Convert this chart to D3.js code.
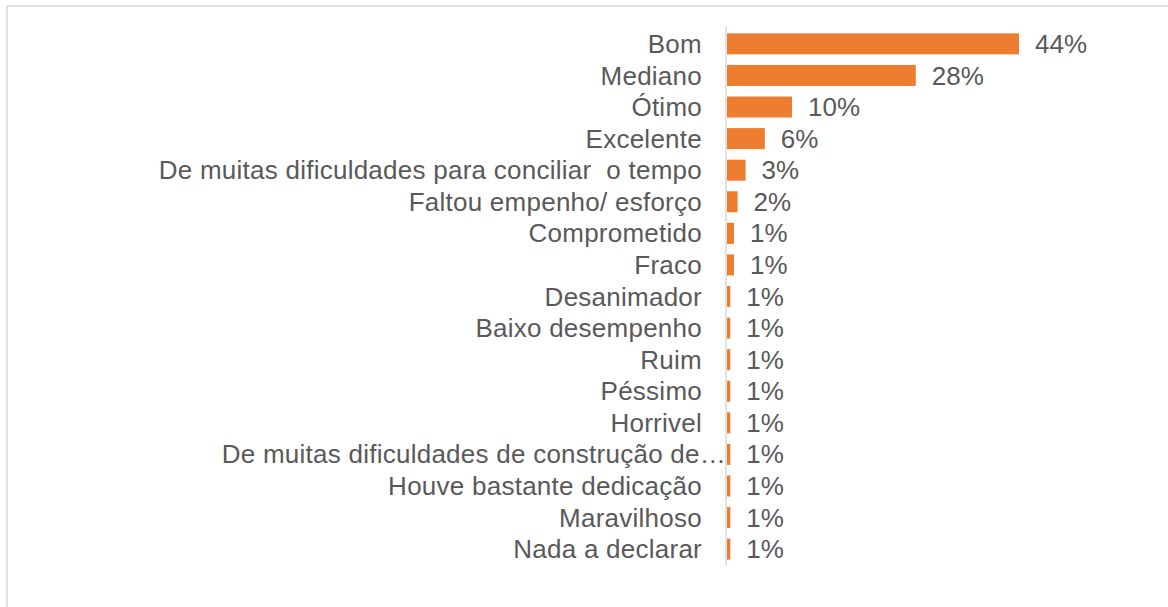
<!DOCTYPE html>
<html>
<head>
<meta charset="utf-8">
<script src="https://cdn.jsdelivr.net/npm/d3@7"></script>
<style>
  html, body { margin: 0; padding: 0; background: #fff; overflow: hidden; }
  text { font-family: "Liberation Sans", Arial, sans-serif; fill: #595959; white-space: pre; }
</style>
</head>
<body>
<div id="chart"></div>
<script>
// categorias (de cima para baixo) e percentuais
const categorias = [
  'Bom', 'Mediano', 'Ótimo', 'Excelente',
  'De muitas dificuldades para conciliar  o tempo',
  'Faltou empenho/ esforço', 'Comprometido', 'Fraco',
  'Desanimador', 'Baixo desempenho', 'Ruim', 'Péssimo', 'Horrivel',
  'De muitas dificuldades de construção de…',
  'Houve bastante dedicação', 'Maravilhoso', 'Nada a declarar'
];
const percentuais = [44, 28.45, 9.8, 5.7, 2.8, 1.6, 1.05, 1.05,
  0.5, 0.5, 0.5, 0.5, 0.5, 0.5, 0.5, 0.5, 0.5];

const W = 1168, H = 607;
const eixoX = 726;

const svg = d3.select('#chart').append('svg')
  .attr('width', W).attr('height', H);

// moldura cinza clara (sai pela direita e por baixo)
svg.append('rect')
  .attr('x', 7).attr('y', 6)
  .attr('width', W + 20).attr('height', H + 20)
  .attr('fill', 'none').attr('stroke', '#d9d9d9').attr('stroke-width', 1.5);

const x = d3.scaleLinear().domain([0, 44]).range([eixoX + 1, 1019]);
const y = d3.scaleBand().domain(categorias).range([28, 565]).paddingInner(0.335).paddingOuter(0.17);

// barras
svg.append('g').selectAll('rect')
  .data(categorias)
  .join('rect')
  .attr('x', x(0))
  .attr('y', d => y(d))
  .attr('width', (d, i) => x(percentuais[i]) - x(0))
  .attr('height', y.bandwidth())
  .attr('fill', '#ed7d31');

// eixo vertical
svg.append('line')
  .attr('x1', eixoX).attr('x2', eixoX)
  .attr('y1', 26).attr('y2', 566)
  .attr('stroke', '#d9d9d9').attr('stroke-width', 1.5);

// rótulos das categorias
svg.append('g').selectAll('text')
  .data(categorias)
  .join('text')
  .attr('x', d => d.endsWith('…') ? eixoX : eixoX - 24)
  .attr('y', d => y(d) + y.bandwidth() / 2)
  .attr('dy', '0.35em')
  .attr('text-anchor', 'end')
  .attr('xml:space', 'preserve')
  .style('font-size', '26px')
  .style('letter-spacing', '0.25px')
  .text(d => d);

// rótulos de valores
svg.append('g').selectAll('text')
  .data(categorias)
  .join('text')
  .attr('x', (d, i) => x(percentuais[i]) + 16)
  .attr('y', d => y(d) + y.bandwidth() / 2)
  .attr('dy', '0.35em')
  .style('font-size', '26px')
  .text((d, i) => Math.round(percentuais[i]) + '%');
</script>
</body>
</html>
